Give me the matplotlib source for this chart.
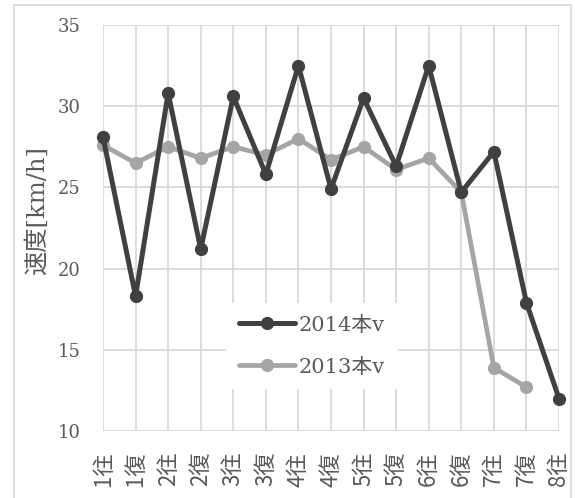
import matplotlib
matplotlib.use("Agg")
import matplotlib.pyplot as plt
import numpy as np
from matplotlib.patches import Rectangle

plt.rcParams['font.family'] = ['DejaVu Serif', 'Noto Sans CJK JP']

categories = ["1往", "1復", "2往", "2復", "3往", "3復", "4往", "4復", "5往", "5復",
              "6往", "6復", "7往", "7復", "8往"]
v2014 = [28.1, 18.3, 30.8, 21.2, 30.6, 25.8, 32.5, 24.9, 30.5, 26.3, 32.5, 24.7, 27.2, 17.9, 12.0]
v2013 = [27.6, 26.5, 27.5, 26.8, 27.5, 27.0, 28.0, 26.7, 27.5, 26.1, 26.8, 24.7, 13.9, 12.7, np.nan]
y_ticks = [10, 15, 20, 25, 30, 35]
series_names = ["2014本v", "2013本v"]

W, H = 575, 498
fig = plt.figure(figsize=(W / 100, H / 100), dpi=100)
L, R, T, B = 103, 559, 25, 431
ax = fig.add_axes([L / W, 1 - B / H, (R - L) / W, (B - T) / H])

x = np.arange(len(categories))
dark = "#404040"
gray = "#a5a5a5"
ax.plot(x, v2014, color=dark, lw=3.6, marker='o', ms=8.5, label=series_names[0], zorder=4,
        solid_capstyle='round', solid_joinstyle='round', clip_on=False)
ax.plot(x, v2013, color=gray, lw=3.4, marker='o', ms=8.5, label=series_names[1], zorder=3,
        solid_capstyle='round', solid_joinstyle='round', clip_on=False)

ax.set_xlim(0, len(categories) - 1)
ax.set_ylim(10, 35)
ax.set_yticks(y_ticks)
ax.set_xticks(x)
ax.set_xticklabels(categories, rotation=90, family=['Noto Sans CJK JP'], fontsize=16,
                   color="#595959")
for lab in ax.get_yticklabels():
    lab.set_fontsize(13)
    lab.set_color("#595959")

ax.grid(True, color="#d9d9d9", lw=1.3)
ax.set_axisbelow(True)
for s in ax.spines.values():
    s.set_visible(False)
ax.tick_params(axis='both', length=0)
ax.tick_params(axis='y', pad=16)
ax.tick_params(axis='x', pad=15)

ax.set_ylabel("速度[km/h]", fontsize=17.5, color="#595959", va='center')
ax.yaxis.set_label_coords(-0.145, 0.542)

leg = ax.legend(loc='center', bbox_to_anchor=(0.458, 0.209), frameon=True,
                facecolor='white', edgecolor='none', framealpha=1, fancybox=False,
                fontsize=15, handlelength=2.7, handletextpad=0.2, labelspacing=1.1,
                borderpad=0.6, borderaxespad=0)
for t in leg.get_texts():
    t.set_color("#595959")

fig.patches.append(Rectangle((14 / W, -0.1), (571 - 14) / W, 1.1 - 5 / H,
                             transform=fig.transFigure, fill=False,
                             edgecolor="#d9d9d9", lw=1.3))

fig.savefig("out.png", dpi=100)
